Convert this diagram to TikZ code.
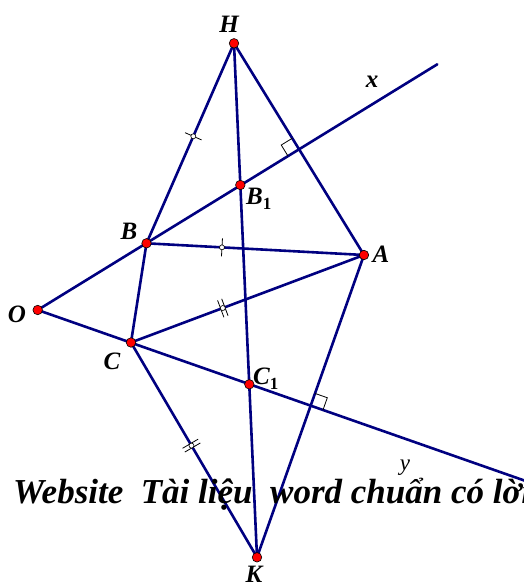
\documentclass[tikz,border=0pt]{standalone}
\usepackage{fontspec}
\setmainfont{Liberation Serif}
\usetikzlibrary{calc}
\definecolor{navy}{RGB}{0,0,128}
\definecolor{ptred}{RGB}{255,0,0}
\begin{document}
\begin{tikzpicture}[x=1pt,y=-1pt,
  seg/.style={draw=navy,line width=2.6pt,line cap=round},
  mk/.style={draw=black,line width=0.8pt},
  pt/.style={circle,draw=black,line width=0.6pt,fill=ptred,inner sep=0pt,minimum size=9.5pt},
  tickdot/.style={circle,draw=black,line width=0.6pt,fill=white,inner sep=0pt,minimum size=5pt},
  lab/.style={font=\fontsize{25}{25}\selectfont\bfseries\itshape,inner sep=0pt,anchor=base},
  wm/.style={font=\fontsize{35}{38}\selectfont\bfseries\itshape,inner sep=0pt,anchor=base west}]
\useasboundingbox (0,0) rectangle (523,587);
% points
\coordinate (H) at (234,43.3);
\coordinate (B1) at (240.3,185);
\coordinate (B) at (146.5,243.3);
\coordinate (A) at (364,255);
\coordinate (O) at (37.7,310);
\coordinate (C) at (131,342.5);
\coordinate (C1) at (249.3,384.3);
\coordinate (K) at (257,557.3);
\coordinate (X) at (437.3,64.3);
\coordinate (Y) at (540,486);
% lines
\draw[seg] (O) -- (X);
\draw[seg] (O) -- (Y);
\draw[seg] (H) -- (B);
\draw[seg] (H) -- (A);
\draw[seg] (H) -- (K);
\draw[seg] (B) -- (A);
\draw[seg] (B) -- (C);
\draw[seg] (C) -- (A);
\draw[seg] (C) -- (K);
\draw[seg] (A) -- (K);
% right angle marks
\coordinate (P1) at (intersection of H--A and O--X);
\coordinate (P1a) at ($(P1)!13pt!(H)$);
\coordinate (P1b) at ($(P1)!13pt!(O)$);
\draw[mk] (P1a) -- ($(P1a)+(P1b)-(P1)$) -- (P1b);
\coordinate (P2) at (intersection of A--K and O--Y);
\coordinate (P2a) at ($(P2)!13pt!(A)$);
\coordinate (P2b) at ($(P2)!13pt!(Y)$);
\draw[mk] (P2a) -- ($(P2a)+(P2b)-(P2)$) -- (P2b);
% tick marks
\coordinate (M1) at ($(H)!0.465!(B)$);
\draw[mk] ($(M1)!9pt!90:(B)$) -- ($(M1)!9pt!-90:(B)$);
\node[tickdot] (d1) at (M1) {};
\coordinate (M2) at ($(B)!0.347!(A)$);
\draw[mk] ($(M2)!9pt!90:(A)$) -- ($(M2)!9pt!-90:(A)$);
\node[tickdot] (d2) at (M2) {};
\coordinate (M3) at ($(C)!0.394!(A)$);
\coordinate (M3a) at ($(M3)!2.2pt!(A)$);
\coordinate (M3b) at ($(M3)!-2.2pt!(A)$);
\draw[mk] ($(M3a)!9pt!90:(A)$) -- ($(M3a)!9pt!-90:(A)$);
\draw[mk] ($(M3b)!9pt!90:(A)$) -- ($(M3b)!9pt!-90:(A)$);
\node[tickdot] (d3) at (M3) {};
\coordinate (M4) at ($(C)!0.48!(K)$);
\coordinate (M4a) at ($(M4)!2.2pt!(K)$);
\coordinate (M4b) at ($(M4)!-2.2pt!(K)$);
\draw[mk] ($(M4a)!9pt!90:(K)$) -- ($(M4a)!9pt!-90:(K)$);
\draw[mk] ($(M4b)!9pt!90:(K)$) -- ($(M4b)!9pt!-90:(K)$);
\node[tickdot] (d4) at (M4) {};
% point dots
\foreach \p in {H,B1,B,A,O,C,C1,K} \node[pt] (dot\p) at (\p) {};
% labels
\node[lab] (lH) at (229,32) {H};
\node[lab] (lx) at (372,87) {x};
\node[lab,anchor=base west] (lB1) at (246,204) {B\raisebox{-0.2em}{\fontsize{17}{17}\selectfont\upshape 1}};
\node[lab] (lB) at (129,239) {B};
\node[lab] (lA) at (381,262) {A};
\node[lab] (lO) at (17,322) {O};
\node[lab] (lC) at (112,369) {C};
\node[lab,anchor=base west] (lC1) at (253,384) {C\raisebox{-0.2em}{\fontsize{17}{17}\selectfont\upshape 1}};
\node[lab,font=\fontsize{23}{23}\selectfont\itshape] (ly) at (405,470) {y};
\node[lab] (lK) at (254,582) {K};
% watermark
\node[wm] (wmark) at (13,503) {Website\ \ Tài liệu\ \ word chuẩn có lời};
\end{tikzpicture}
\end{document}
